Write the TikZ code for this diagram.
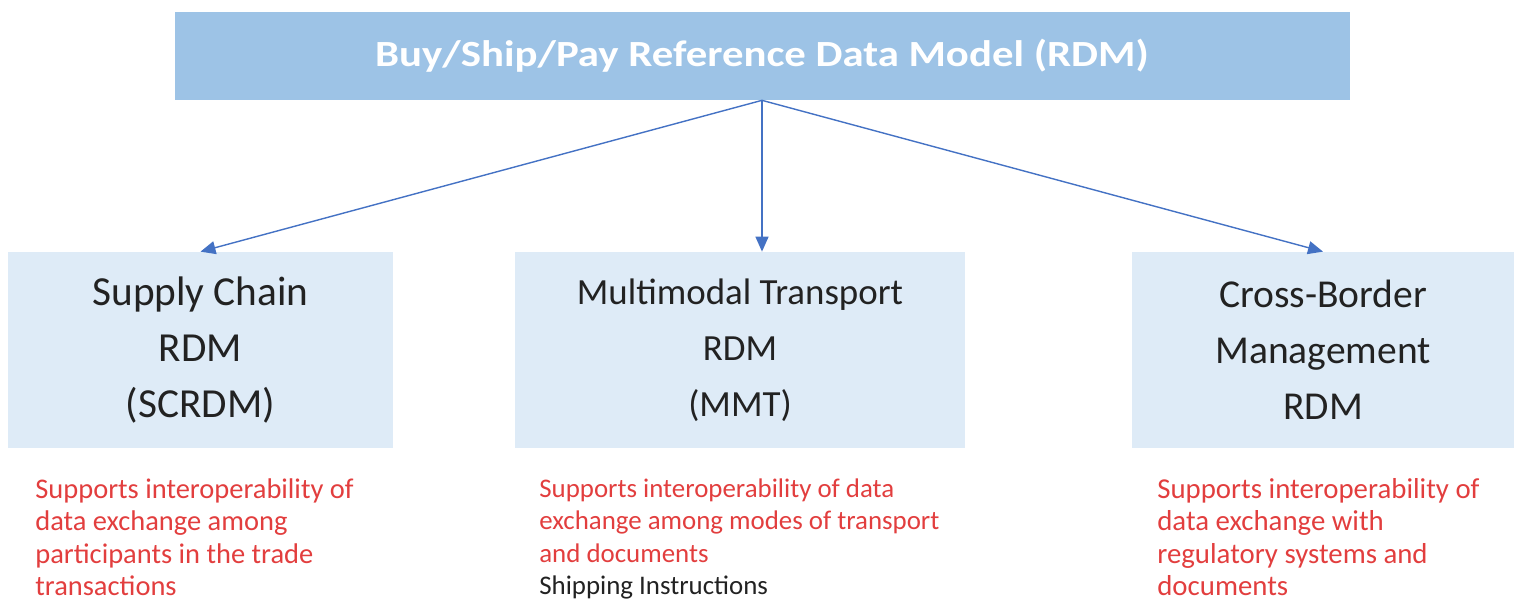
\documentclass[tikz,border=0pt]{standalone}
\usepackage{fontspec}
\setmainfont{Carlito}
\newfontfamily\titlefont[FakeStretch=1.16]{Carlito}
\usepackage{tikz}
\usetikzlibrary{arrows, arrows.meta, positioning, calc}
\usepackage{xcolor}
\definecolor{rdmblue}{RGB}{157,195,230}
\definecolor{subblue}{RGB}{222,235,247}
\definecolor{arrowblue}{RGB}{68,114,196}
\definecolor{noteRed}{RGB}{226,62,62}
\definecolor{boxtext}{RGB}{34,34,34}

\begin{document}
\begin{tikzpicture}[
    topbox/.style={rectangle, fill=rdmblue, minimum width=23.5cm, minimum height=1.76cm, text=white, font=\titlefont\fontsize{21}{25}\selectfont\bfseries},
    subbox/.style={rectangle, fill=subblue, minimum height=3.92cm, align=center, text=boxtext},
    note/.style={anchor=north west, inner sep=0pt, align=left, text=noteRed},
    arrow/.style={-{Triangle[length=0.3cm, width=0.26cm]}, arrowblue, line width=0.8pt}
]
    \useasboundingbox (0,0) rectangle (30.28,12.16);

    % Top model
    \node [topbox] (RDM) at (15.24, 11.04) {Buy/Ship/Pay Reference Data Model (RDM)};

    % Supply chain
    \node [subbox, minimum width=7.7cm, font=\fontsize{23.5}{32}\selectfont] (SC) at (4.01, 5.16) {Supply Chain\\RDM\\(SCRDM)};

    % Multimodal transport
    \node [subbox, minimum width=9.0cm, font=\fontsize{21}{32}\selectfont] (MMT) at (14.8, 5.16) {Multimodal Transport\\RDM\\(MMT)};

    % Cross-border management
    \node [subbox, minimum width=7.64cm, font=\fontsize{22.5}{32}\selectfont] (CBM) at (26.46, 5.16) {Cross-Border\\Management\\RDM};

    % Notes under the boxes
    \node [note, font=\fontsize{16.2}{18.5}\selectfont] (SCnote) at (0.70, 2.6) {Supports interoperability of\\data exchange among\\participants in the trade\\transactions};
    \node [note, font=\fontsize{15.3}{18.5}\selectfont] (MMTnote) at (10.78, 2.6) {Supports interoperability of data\\exchange among modes of transport\\and documents\\\textcolor{boxtext}{Shipping Instructions}};
    \node [note, font=\fontsize{16.4}{18.5}\selectfont] (CBMnote) at (23.14, 2.6) {Supports interoperability of\\data exchange with\\regulatory systems and\\documents};

    % Arrows
    \draw [arrow] (RDM.south) -- (SC.north);
    \draw [arrow] (RDM.south) -- (RDM.south |- MMT.north);
    \draw [arrow] (RDM.south) -- (CBM.north);

\end{tikzpicture}
\end{document}
